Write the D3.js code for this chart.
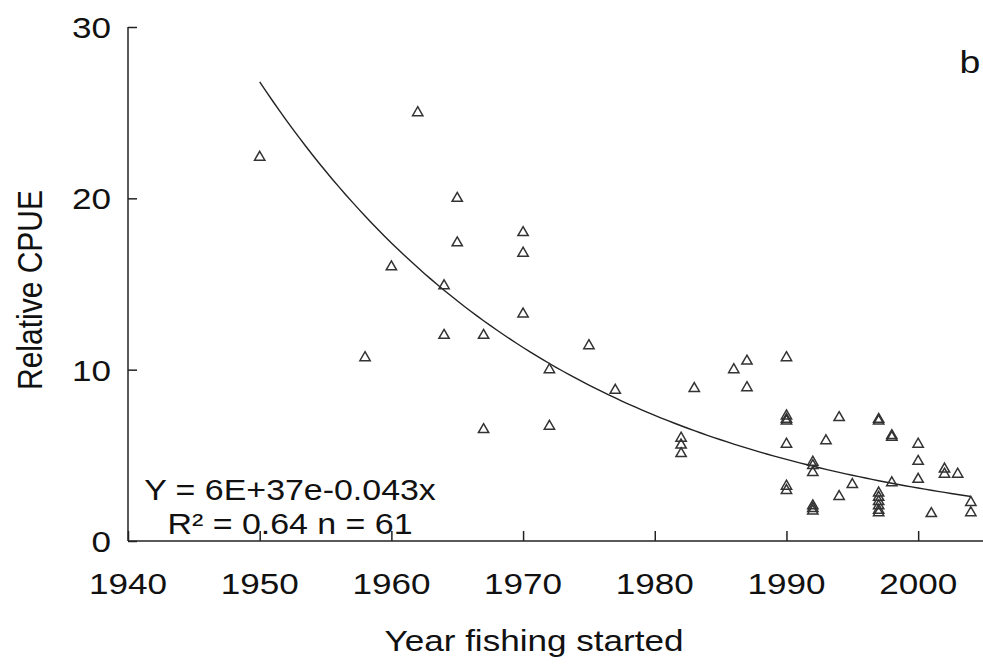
<!DOCTYPE html>
<html>
<head>
<meta charset="utf-8">
<script src="https://cdn.jsdelivr.net/npm/d3@7"></script>
<style>
  body { margin: 0; background: #fff; }
  text { font-family: "Liberation Sans", Arial, sans-serif; fill: #111; }
</style>
</head>
<body>
<script>
// Data: year fishing started vs relative CPUE
const years = [1950, 1958, 1960, 1962, 1964, 1964, 1965, 1965, 1967, 1967,
  1970, 1970, 1970, 1972, 1972, 1975, 1977, 1982, 1982, 1982,
  1983, 1986, 1987, 1987, 1990, 1990, 1990, 1990, 1990, 1990,
  1990, 1992, 1992, 1992, 1992, 1992, 1993, 1994, 1994, 1995,
  1997, 1997, 1997, 1997, 1997, 1997, 1997, 1997, 1998, 1998,
  1998, 2000, 2000, 2000, 2001, 2002, 2002, 2003, 2004, 2004, 1992];
const cpue = [22.4, 10.7, 16.0, 25.0, 14.9, 12.0, 20.0, 17.4, 12.0, 6.5,
  18.0, 16.8, 13.25, 10.0, 6.7, 11.4, 8.8, 6.0, 5.6, 5.1,
  8.9, 10.0, 10.5, 8.95, 10.7, 7.3, 7.1, 5.65, 3.2, 2.95,
  7.0, 4.6, 4.4, 4.0, 2.05, 1.75, 5.85, 7.2, 2.6, 3.3,
  7.1, 7.0, 2.8, 2.55, 2.3, 2.05, 1.8, 1.65, 6.15, 6.05,
  3.4, 5.65, 4.65, 3.6, 1.6, 4.2, 3.9, 3.9, 2.25, 1.65, 1.9];

// Exponential trendline as shown (coefficients refit to the drawn curve)
const trendRate = 0.0432;
const trendAt1950 = 26.8;
const trendYears = d3.range(1950, 2004.01, 0.5);

const xTicks = [1940, 1950, 1960, 1970, 1980, 1990, 2000];
const yTicks = [0, 10, 20, 30];

const width = 983, height = 671;
const sx = 1.17; // the source picture is stretched sideways
const fs = "30px";

const svg = d3.select("body").append("svg")
    .attr("width", width)
    .attr("height", height);

const x = d3.scaleLinear().domain([1940, 2005]).range([128, 984]);
const y = d3.scaleLinear().domain([0, 30]).range([541, 27]);

// Axes with inward ticks
const xAxis = d3.axisTop(x).tickValues(xTicks).tickSize(10).tickFormat("");
const yAxis = d3.axisRight(y).tickValues(yTicks).tickSize(9).tickFormat("");

svg.append("g")
    .attr("transform", `translate(0,${y(0)})`)
    .call(xAxis)
    .call(g => g.select(".domain").attr("d", `M${x(1940)},0H${width}`));

svg.append("g")
    .attr("transform", `translate(${x(1940)},0)`)
    .call(yAxis)
    .call(g => g.select(".domain").attr("d", `M0,${y(30)}V${y(0)}`));

svg.selectAll(".domain, .tick line")
    .attr("stroke", "#222")
    .attr("stroke-width", 1.5);

// Tick labels
svg.append("g").selectAll("text")
    .data(xTicks)
  .enter().append("text")
    .attr("transform", d => `translate(${x(d)},594) scale(${sx},1)`)
    .attr("text-anchor", "middle")
    .attr("font-size", fs)
    .text(d => d);

svg.append("g").selectAll("text")
    .data(yTicks)
  .enter().append("text")
    .attr("transform", d => `translate(${x(1940) - 17},${y(d) + 11}) scale(${sx},1)`)
    .attr("text-anchor", "end")
    .attr("font-size", fs)
    .text(d => d);

// Axis titles
svg.append("text")
    .attr("transform", `translate(534,651) scale(${sx},1)`)
    .attr("text-anchor", "middle")
    .attr("font-size", fs)
    .text("Year fishing started");

svg.append("text")
    .attr("transform", `translate(42,290) rotate(-90) scale(1,${sx})`)
    .attr("text-anchor", "middle")
    .attr("font-size", fs)
    .text("Relative CPUE");

// Trendline
const line = d3.line()
    .x(d => x(d))
    .y(d => y(trendAt1950 * Math.exp(-trendRate * (d - 1950))));

svg.append("path")
    .datum(trendYears)
    .attr("d", line)
    .attr("fill", "none")
    .attr("stroke", "#222")
    .attr("stroke-width", 1.4);

// Points: open triangles
const tri = d3.symbol().type(d3.symbolTriangle).size(46);
svg.append("g").selectAll("path")
    .data(years)
  .enter().append("path")
    .attr("transform", (d, i) => `translate(${x(d)},${y(cpue[i])})`)
    .attr("d", tri)
    .attr("fill", "none")
    .attr("stroke", "#333")
    .attr("stroke-width", 1.5);

// Equation and panel letter
svg.append("text")
    .attr("transform", `translate(290,500) scale(${sx},1)`)
    .attr("text-anchor", "middle")
    .attr("font-size", "29px")
    .text("Y = 6E+37e-0.043x");

svg.append("text")
    .attr("transform", `translate(290,534) scale(${sx},1)`)
    .attr("text-anchor", "middle")
    .attr("font-size", "29px")
    .text("R² = 0.64 n = 61");

svg.append("text")
    .attr("transform", `translate(970,73) scale(${sx},1)`)
    .attr("text-anchor", "middle")
    .attr("font-size", "32px")
    .text("b");
</script>
</body>
</html>
